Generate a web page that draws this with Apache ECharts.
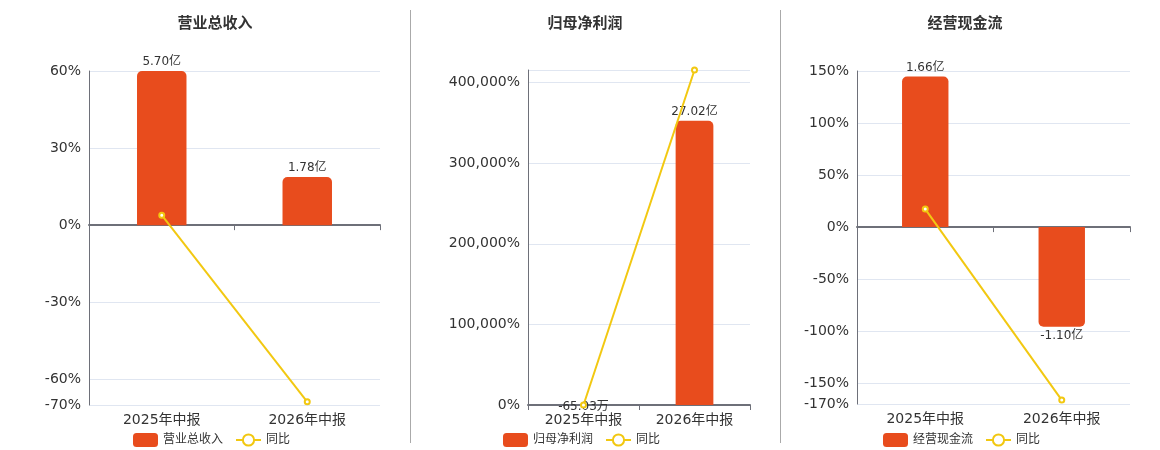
<!DOCTYPE html>
<html>
<head>
<meta charset="utf-8">
<script src="https://cdn.jsdelivr.net/npm/echarts@6/dist/echarts.min.js"></script>
<style>
  html, body { margin: 0; padding: 0; background: #fff; }
  #main { width: 1160px; height: 450px; }
</style>
</head>
<body>
<div id="main"></div>
<script>
// 报告期
var categories = ['2025年中报', '2026年中报'];
// 指标名称
var titles = ['营业总收入', '归母净利润', '经营现金流'];
// 金额（亿元）
var revenue = [5.70, 1.78];
var netProfit = [-0.006503, 27.02];
var cashFlow = [1.66, -1.10];
// 同比（%）
var revenueYoy = [3.9, -68.77];
var netProfitYoy = [0, 415590];
var cashFlowYoy = [17.3, -166.27];
// 同比轴范围
var yoyRange = [[-70, 60], [0, 415590], [-170, 150]];
// 金额轴范围（隐藏，零点与同比轴对齐）
var amtRange = [[-6.65, 5.70], [0, 31.85], [-1.952, 1.722]];

var amounts = [revenue, netProfit, cashFlow];
var yoys = [revenueYoy, netProfitYoy, cashFlowYoy];

var FONT = 'DejaVu Sans, Noto Sans CJK SC, sans-serif';
var BAR_COLOR = '#E84C1D';
var LINE_COLOR = '#F2C811';

var grids = [
  { left: 89, right: 780, top: 71, bottom: 45 },
  { left: 528, right: 410, top: 70, bottom: 45 },
  { left: 857, right: 30, top: 71, bottom: 46 }
];
var centers = [210, 580, 960];

function fmtAmount(v) {
  if (Math.abs(v) >= 1) return v.toFixed(2) + '亿';
  return (v * 10000).toFixed(2) + '万';
}

var option = {
  animation: false,
  textStyle: { fontFamily: FONT },
  title: [], legend: [], grid: [], xAxis: [], yAxis: [], series: [],
  graphic: [
    { type: 'line', shape: { x1: 410.5, y1: 10, x2: 410.5, y2: 443 }, style: { stroke: '#aaa', lineWidth: 1 } },
    { type: 'line', shape: { x1: 780.5, y1: 10, x2: 780.5, y2: 443 }, style: { stroke: '#aaa', lineWidth: 1 } }
  ]
};

for (var i = 0; i < 3; i++) {
  option.title.push({
    text: titles[i], left: centers[i], top: 12, textAlign: 'center',
    textStyle: { fontSize: 15, fontWeight: 'bold', color: '#333', fontFamily: FONT }
  });
  option.legend.push({
    top: 428,
    left: centers[i] - 82,
    itemWidth: 25, itemHeight: 14, itemGap: 12,
    textStyle: { fontSize: 12, color: '#333', fontFamily: FONT },
    data: [{ name: titles[i], icon: 'roundRect' }, { name: '同比' + i }],
    formatter: function (n) { return n.indexOf('同比') === 0 ? '同比' : n; }
  });
  option.grid.push(grids[i]);
  // 零线 + 刻度
  option.xAxis.push({
    type: 'category', gridIndex: i, data: categories,
    axisLine: { onZero: true, lineStyle: { color: '#6E7079', width: 2 } },
    axisTick: { show: true, lineStyle: { color: '#6E7079' } },
    axisLabel: { show: false }
  });
  // 底部标签
  option.xAxis.push({
    type: 'category', gridIndex: i, data: categories, position: 'bottom',
    axisLine: { show: false, onZero: false }, axisTick: { show: false },
    axisLabel: { fontSize: 14, color: '#333', margin: 8, fontFamily: FONT }
  });
  option.yAxis.push({
    type: 'value', gridIndex: i, min: yoyRange[i][0], max: yoyRange[i][1],
    axisLine: { show: true, lineStyle: { color: '#6E7079' } },
    axisTick: { show: false },
    splitLine: { lineStyle: { color: '#E0E6F1' } },
    axisLabel: {
      fontSize: 14, color: '#333', fontFamily: FONT,
      formatter: function (v) { return v.toLocaleString('en-US') + '%'; }
    }
  });
  option.yAxis.push({
    type: 'value', gridIndex: i, min: amtRange[i][0], max: amtRange[i][1],
    show: false, splitLine: { show: false }
  });
  option.series.push({
    name: titles[i], type: 'bar', xAxisIndex: i * 2, yAxisIndex: i * 2 + 1,
    barWidth: '34%',
    itemStyle: { color: BAR_COLOR },
    data: amounts[i].map(function (v) {
      return {
        value: v,
        itemStyle: { borderRadius: v >= 0 ? [5, 5, 0, 0] : [0, 0, 5, 5] },
        label: { position: v >= 0 ? 'top' : 'bottom', distance: v >= 0 ? 3 : (Math.abs(v) < 1 ? -4 : 3) }
      };
    }),
    label: {
      show: true, fontSize: 12, color: '#333', fontFamily: FONT, distance: 3,
      formatter: function (p) { return fmtAmount(p.value); }
    }
  });
  option.series.push({
    name: '同比' + i, type: 'line', xAxisIndex: i * 2, yAxisIndex: i * 2,
    symbol: 'emptyCircle', symbolSize: 5,
    itemStyle: { color: LINE_COLOR },
    lineStyle: { color: LINE_COLOR, width: 2 },
    data: yoys[i]
  });
}

var chart = echarts.init(document.getElementById('main'));
chart.setOption(option);
</script>
</body>
</html>
